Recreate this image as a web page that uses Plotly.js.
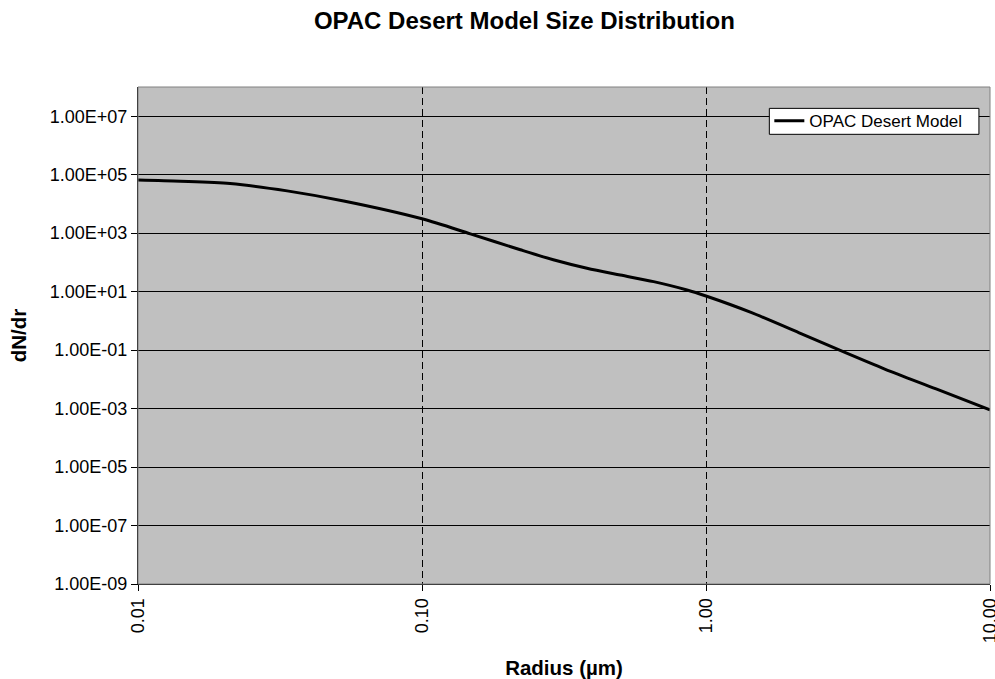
<!DOCTYPE html>
<html>
<head>
<meta charset="utf-8">
<script src="https://cdn.plot.ly/plotly-3.0.1.min.js"></script>
<style>
  html, body { margin: 0; padding: 0; background: #fff; }
  #chart { width: 995px; height: 679px; }
</style>
</head>
<body>
<div id="chart"></div>
<script>
// radius in µm, dN/dr
var radius = [0.01, 0.0141, 0.0211, 0.0335, 0.053, 0.1, 0.148, 0.222, 0.29, 0.381,
              0.499, 0.654, 0.857, 1.0, 1.44, 2.16, 3.04, 4.28, 6.46, 10];
var dndr = [6.6e4, 6.0e4, 5.0e4, 2.8e4, 1.26e4, 3.1e3, 9.5e2, 2.7e2, 1.23e2, 63,
            37, 22, 11.4, 7.1, 1.95, 0.368, 0.088, 0.022, 0.0047, 9e-4];

var xTickVals = [0.01, 0.1, 1, 10];
var xTickText = ['0.01', '0.10', '1.00', '10.00'];
var yTickVals = [1e-9, 1e-7, 1e-5, 1e-3, 1e-1, 1e1, 1e3, 1e5, 1e7];
var yTickText = ['1.00E-09', '1.00E-07', '1.00E-05', '1.00E-03', '1.00E-01',
                 '1.00E+01', '1.00E+03', '1.00E+05', '1.00E+07'];

var FONT = '"Liberation Sans", Arial, sans-serif';

var trace = {
    x: radius,
    y: dndr,
    type: 'scatter',
    mode: 'lines',
    name: 'OPAC Desert Model',
    line: {color: '#000', width: 3, shape: 'spline', smoothing: 0.8}
};

var layout = {
    width: 995,
    height: 679,
    margin: {l: 138, r: 5, t: 87, b: 95},
    paper_bgcolor: '#fff',
    plot_bgcolor: '#c0c0c0',
    font: {family: FONT, size: 18, color: '#000'},
    title: {
        text: '<b>OPAC Desert Model Size Distribution</b>',
        font: {family: FONT, size: 24, color: '#000'},
        xref: 'container', x: 0.527, xanchor: 'center',
        yref: 'container', y: 0.969, yanchor: 'middle'
    },
    xaxis: {
        type: 'log',
        range: [-2, 1],
        tickvals: xTickVals,
        ticktext: xTickText,
        tickangle: -90,
        ticklabeloverflow: 'allow',
        ticks: 'outside', ticklen: 6, tickcolor: '#000',
        showline: true, linecolor: '#000', linewidth: 1,
        showgrid: true, gridcolor: '#000', gridwidth: 1, griddash: '7px,4px',
        zeroline: false,
        tickfont: {size: 18},
        title: {text: '<b>Radius (µm)</b>', font: {size: 20.5}, standoff: 22}
    },
    yaxis: {
        type: 'log',
        range: [-9, 8],
        tickvals: yTickVals,
        ticktext: yTickText,
        ticks: 'outside', ticklen: 6, tickcolor: '#000',
        showline: true, linecolor: '#000', linewidth: 1,
        showgrid: true, gridcolor: '#000', gridwidth: 1,
        zeroline: false,
        tickfont: {size: 18},
        title: {text: '<b>dN/dr</b>', font: {size: 20.5}, standoff: 17}
    },
    shapes: [
        {   // grey frame of the plot area
            type: 'rect', xref: 'paper', yref: 'paper',
            x0: 0, x1: 1, y0: 0, y1: 1,
            line: {color: '#808080', width: 1}
        },
        {   // legend box
            type: 'rect', xref: 'paper', yref: 'paper',
            x0: 0.741, x1: 0.987, y0: 0.9048, y1: 0.957,
            fillcolor: '#fff',
            line: {color: '#000', width: 1},
            layer: 'above'
        }
    ],
    showlegend: true,
    legend: {
        x: 0.741, xanchor: 'left',
        y: 0.931, yanchor: 'middle',
        bgcolor: 'rgba(0,0,0,0)',
        borderwidth: 0,
        font: {size: 17}
    }
};

Plotly.newPlot('chart', [trace], layout, {displayModeBar: false, staticPlot: true});
</script>
</body>
</html>
